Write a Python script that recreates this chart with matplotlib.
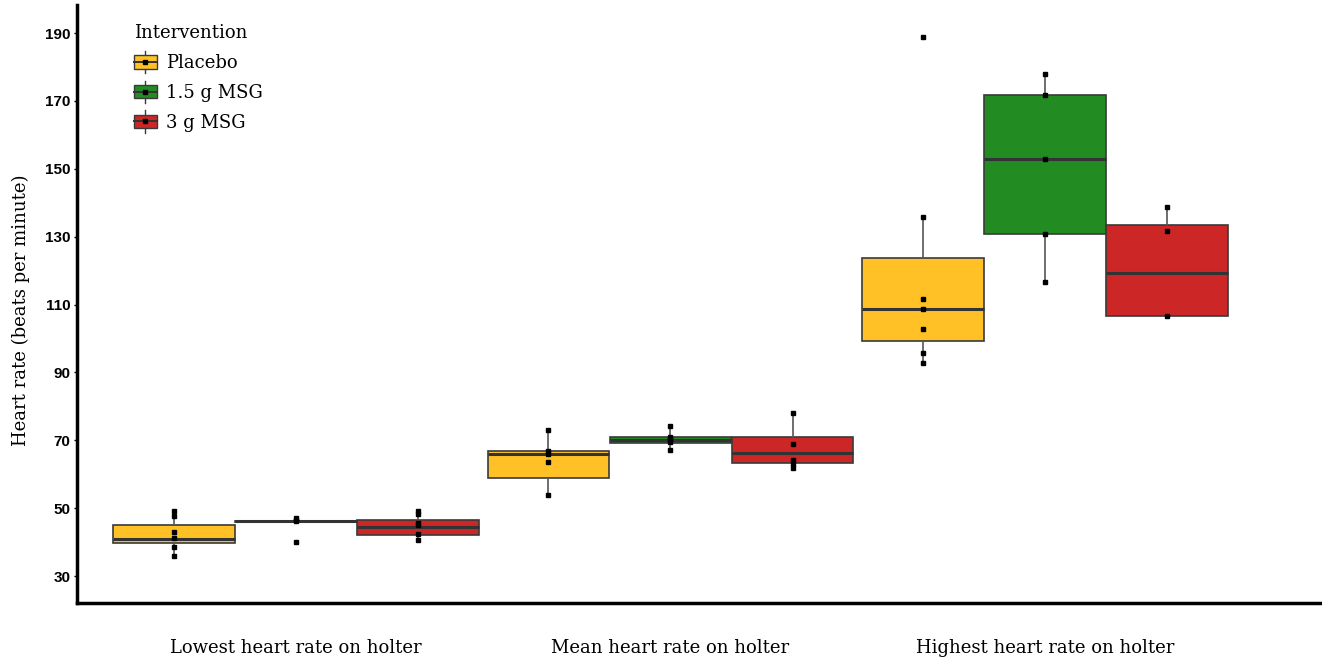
import numpy as np
import matplotlib
matplotlib.use("Agg")
import matplotlib.pyplot as plt
from matplotlib.patches import Rectangle
from matplotlib.lines import Line2D
from matplotlib.legend_handler import HandlerBase

measures = ["Lowest heart rate on holter", "Mean heart rate on holter",
            "Highest heart rate on holter"]
interventions = ["Placebo", "1.5 g MSG", "3 g MSG"]
colors = ["#FFC125", "#228B22", "#CD2626"]

# box stats, rows = intervention, columns = measure (lowest, mean, highest)
q1 = [[39.8, 59.0, 99.3],
      [45.9, 69.3, 130.7],
      [42.2, 63.3, 106.7]]
med = [[41.0, 66.0, 108.7],
       [46.2, 70.2, 152.8],
       [44.4, 66.3, 119.3]]
q3 = [[45.2, 66.9, 123.8],
      [46.4, 71.1, 171.7],
      [46.6, 71.0, 133.4]]
whis_lo = [[35.8, 53.9, 92.8],
           [45.9, 67.1, 116.7],
           [40.6, 61.9, 106.7]]
whis_hi = [[49.3, 73.2, 135.8],
           [46.4, 74.3, 177.9],
           [49.2, 78.0, 138.8]]

# individual observations
placebo_pts = [[35.8, 38.6, 41.1, 43.1, 47.8, 49.3],
               [53.9, 63.7, 66.1, 66.9, 73.2],
               [92.8, 95.7, 102.8, 108.7, 111.7, 135.8, 188.8]]
msg15_pts = [[40.0, 46.2, 46.6, 47.2],
             [67.1, 69.4, 70.1, 70.6, 71.1, 74.3],
             [116.7, 130.7, 152.8, 171.7, 177.9]]
msg3_pts = [[40.6, 42.3, 45.2, 45.8, 48.2, 49.2],
            [61.9, 62.9, 64.2, 68.9, 78.0],
            [106.7, 131.7, 138.8]]
points = [placebo_pts, msg15_pts, msg3_pts]

serif = "DejaVu Serif"
edge = "#3a3a3a"

fig = plt.figure(figsize=(13.22, 6.59), dpi=100)
ax = fig.add_axes([77 / 1322, 1 - 603 / 659, 1 - 77 / 1322, 598 / 659])

width = 0.324
offsets = [-0.326, 0.0, 0.326]
group_x = np.arange(1, len(measures) + 1)

for i, name in enumerate(interventions):
    stats = []
    for j in range(len(measures)):
        stats.append(dict(q1=q1[i][j], med=med[i][j], q3=q3[i][j],
                          whislo=whis_lo[i][j], whishi=whis_hi[i][j], fliers=[]))
    pos = group_x + offsets[i]
    ax.bxp(stats, positions=pos, widths=width, patch_artist=True,
           showfliers=False, showcaps=False,
           boxprops=dict(facecolor=colors[i], edgecolor=edge, linewidth=1.2),
           medianprops=dict(color="#333333", linewidth=2.2),
           whiskerprops=dict(color="#555555", linewidth=1.2),
           zorder=2)
    for j in range(len(measures)):
        ys = points[i][j]
        ax.plot([pos[j]] * len(ys), ys, ls="none", marker="s", ms=3.2,
                color="black", zorder=3)

ax.set_xlim(0.415, 3.74)
ax.set_ylim(22.1, 198.25)
ax.set_yticks(np.arange(30, 191, 20))
ax.set_xticks(group_x)
ax.set_xticklabels(measures, family=serif, fontsize=13)
ax.tick_params(axis="x", length=0, pad=26)
ax.tick_params(axis="y", length=2.5, width=1, pad=2)
for lab in ax.get_yticklabels():
    lab.set_family("Liberation Sans")
    lab.set_fontweight("bold")
    lab.set_fontsize(11)

for s in ["top", "right"]:
    ax.spines[s].set_visible(False)
for s in ["left", "bottom"]:
    ax.spines[s].set_linewidth(2.5)
    ax.spines[s].set_color("black")

ax.set_ylabel("Heart rate (beats per minute)", family=serif, fontsize=13)
ax.yaxis.set_label_coords(-0.038, 0.49)


class BoxHandler(HandlerBase):
    def create_artists(self, legend, orig_handle, xdescent, ydescent,
                       width, height, fontsize, trans):
        fc = orig_handle.get_facecolor()
        x0, y0 = -xdescent, -ydescent
        cx, cy = x0 + width / 2, y0 + height / 2
        vline = Line2D([cx, cx], [y0 - 0.3 * height, y0 + 1.3 * height],
                       color=edge, lw=1, transform=trans)
        rect = Rectangle((x0, y0), width, height, facecolor=fc,
                         edgecolor=edge, lw=1, transform=trans)
        hline = Line2D([x0, x0 + width], [cy, cy], color="#333333", lw=1.4,
                       transform=trans)
        dot = Line2D([cx], [cy], marker="s", ms=3.2, color="black",
                     transform=trans)
        return [vline, rect, hline, dot]


handles = [Rectangle((0, 0), 1, 1, facecolor=c) for c in colors]
leg = ax.legend(handles, interventions, title="Intervention",
                loc="upper left", bbox_to_anchor=(134 / 1322, 1 - 24 / 659),
                bbox_transform=fig.transFigure, frameon=False,
                handler_map={Rectangle: BoxHandler()},
                handlelength=1.25, handleheight=0.8, handletextpad=0.5,
                labelspacing=0.66, borderpad=0, borderaxespad=0,
                prop=dict(family=serif, size=13), alignment="left")
leg.get_title().set_family(serif)
leg.get_title().set_fontsize(13)

fig.savefig("out.png", dpi=100)
